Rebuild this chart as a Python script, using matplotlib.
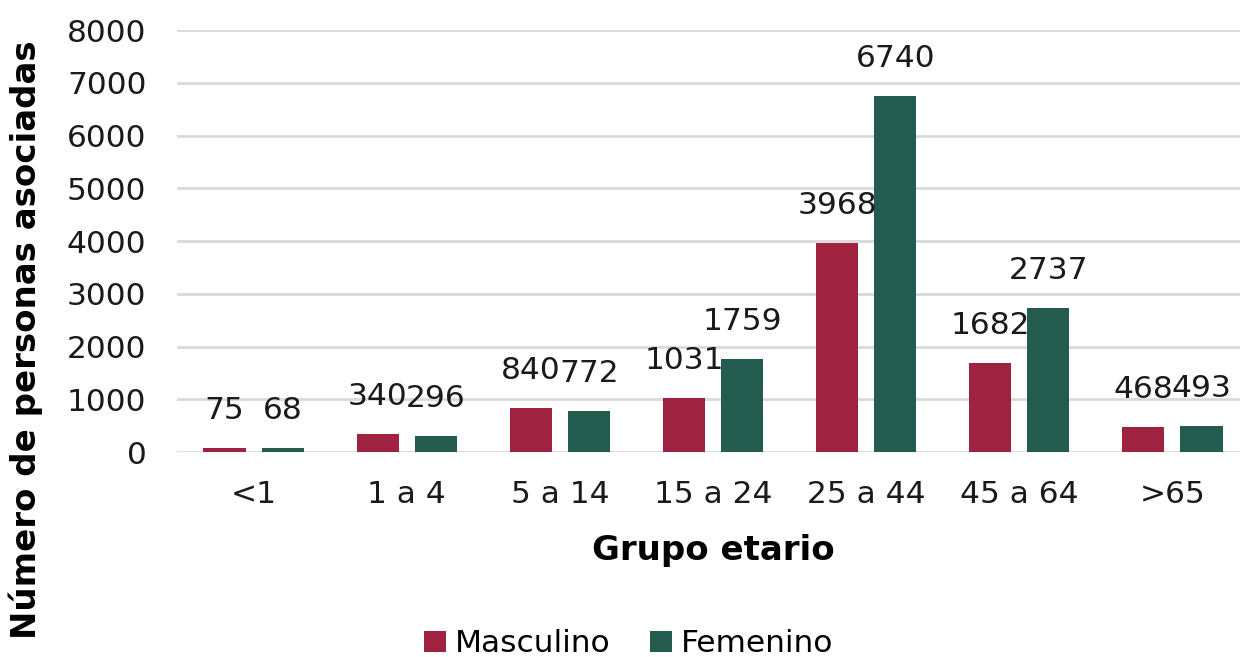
import numpy as np
import matplotlib.pyplot as plt

grupos = ['<1', '1 a 4', '5 a 14', '15 a 24', '25 a 44', '45 a 64', '>65']
masculino = [75, 340, 840, 1031, 3968, 1682, 468]
femenino = [68, 296, 772, 1759, 6740, 2737, 493]

col_m = '#9f2241'
col_f = '#235b4e'
fs = 22.5

plt.rcParams['font.family'] = ['DejaVu Sans']

fig = plt.figure(figsize=(12.4, 6.57), dpi=100)
ax = fig.add_axes([177 / 1240, 205 / 657, 1072 / 1240, 422 / 657])

x = np.arange(len(grupos))
w = 0.275
off = 0.19
b1 = ax.bar(x - off, masculino, w, color=col_m, label='Masculino', zorder=3)
b2 = ax.bar(x + off, femenino, w, color=col_f, label='Femenino', zorder=3)

for bars in (b1, b2):
    for b in bars:
        ax.annotate(str(int(b.get_height())),
                    (b.get_x() + b.get_width() / 2, b.get_height()),
                    xytext=(0, 27), textcoords='offset points',
                    ha='center', va='center', fontsize=fs, color='#1a1a1a')

ax.set_xlim(-0.5, len(grupos) - 0.5)
ax.set_ylim(0, 8000)
ax.set_yticks(range(0, 8001, 1000))
ax.set_xticks(x)
ax.set_xticklabels(grupos)
ax.tick_params(axis='both', length=0, labelsize=fs, colors='#1a1a1a')
ax.tick_params(axis='y', pad=22)
ax.tick_params(axis='x', pad=20)
ax.grid(axis='y', color='#d9d9d9', linewidth=2, zorder=0)
for s in ax.spines.values():
    s.set_visible(False)

ax.set_xlabel('Grupo etario', fontsize=24.5, fontweight='bold', labelpad=18)
fig.text(0.021, 0.483, 'Número de personas asociadas', rotation=90,
         fontsize=24.5, fontweight='bold', ha='center', va='center')

fig.legend(handles=[b1, b2], loc='lower center', bbox_to_anchor=(0.507, -0.045),
           ncol=2, frameon=False, fontsize=fs, handlelength=0.7, handleheight=0.7,
           handletextpad=0.3, columnspacing=1.25)

fig.savefig('out.png', dpi=100)
